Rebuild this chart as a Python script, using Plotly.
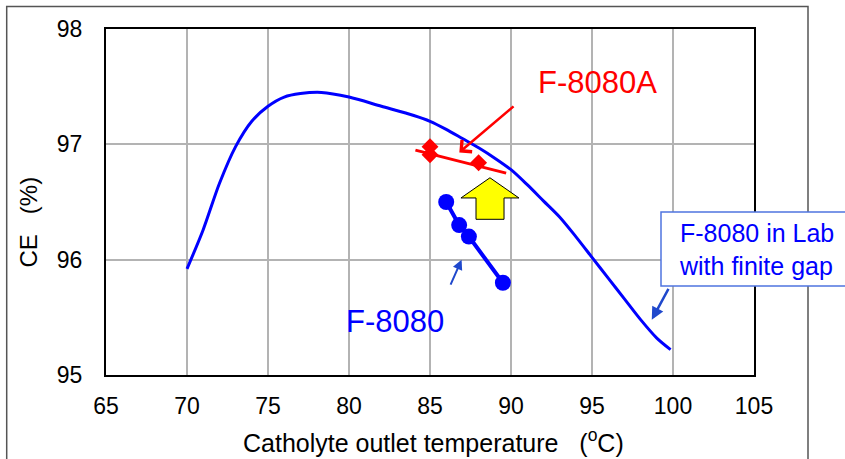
import plotly.graph_objects as go

# Lab curve: F-8080 in Lab with finite gap
lab_x = [70, 71, 72, 73, 74, 75, 76, 77, 78.3, 80, 82, 84, 85, 86, 87, 88, 89, 90, 91, 92, 93, 94, 95, 96, 97, 98, 99, 99.85]
lab_y = [95.92, 96.26, 96.66, 96.98, 97.2, 97.33, 97.41, 97.44, 97.45, 97.41, 97.33, 97.25, 97.2, 97.13, 97.05,
         96.97, 96.88, 96.78, 96.65, 96.51, 96.37, 96.2, 96.02, 95.84, 95.66, 95.48, 95.32, 95.22]

# F-8080 plant data
f8080_x = [86.0, 86.8, 87.4, 89.5]
f8080_y = [96.5, 96.3, 96.2, 95.8]

# F-8080A plant data and trend line
f8080a_x = [85.0, 85.0, 88.0]
f8080a_y = [96.98, 96.91, 96.84]
f8080a_fit_x = [84.1, 89.7]
f8080a_fit_y = [96.95, 96.75]

x_ticks = [65, 70, 75, 80, 85, 90, 95, 100, 105]
y_ticks = [95, 96, 97, 98]

FONT = "Liberation Sans, Arial, sans-serif"
BLUE = "#0000ff"
RED = "#ff0000"
ARROWBLUE = "#1f48cc"

fig = go.Figure()
fig.add_trace(go.Scatter(x=lab_x, y=lab_y, mode="lines", line=dict(color=BLUE, width=3, shape="spline", smoothing=0.8),
                         showlegend=False, hoverinfo="skip"))
fig.add_trace(go.Scatter(x=f8080a_fit_x, y=f8080a_fit_y, mode="lines", line=dict(color=RED, width=3),
                         showlegend=False))
fig.add_trace(go.Scatter(x=f8080a_x, y=f8080a_y, mode="markers",
                         marker=dict(symbol="diamond", size=13, color=RED), showlegend=False))
fig.add_trace(go.Scatter(x=f8080_x, y=f8080_y, mode="lines+markers", line=dict(color=BLUE, width=4),
                         marker=dict(symbol="circle", size=16, color=BLUE), showlegend=False))

W, H = 845, 459
L, R, T, B = 106, 91, 29, 84
pw, ph = W - L - R, H - T - B


def px(xp):
    return (xp - L) / pw


def py(yp):
    return (H - B - yp) / ph


shapes = [
    # outer figure frame
    dict(type="rect", xref="paper", yref="paper", x0=px(6.7), x1=px(808), y0=py(470), y1=py(6.5),
         line=dict(color="#555555", width=1.5), layer="below"),
    # yellow block arrow
    dict(type="path", xref="x", yref="y",
         path="M 87.84,96.35 L 87.84,96.535 L 86.91,96.535 L 88.70,96.71 L 90.49,96.535 L 89.57,96.535 L 89.57,96.35 Z",
         fillcolor="#ffff00", line=dict(color="black", width=1), layer="above"),
    # label box
    dict(type="rect", xref="paper", yref="paper", x0=px(661), x1=px(850), y0=py(286), y1=py(212),
         fillcolor="white", line=dict(color="#4f74e0", width=1.5), layer="above"),
]

annotations = [
    dict(x=86.81, y=96.93, ax=90.25, ay=97.34, xref="x", yref="y", axref="x", ayref="y", text="",
         showarrow=True, arrowhead=4, arrowsize=1.2, arrowwidth=2.5, arrowcolor=RED, standoff=0),
    dict(x=86.95, y=96.0, ax=86.23, ay=95.77, xref="x", yref="y", axref="x", ayref="y", text="",
         showarrow=True, arrowhead=2, arrowsize=1, arrowwidth=2, arrowcolor=ARROWBLUE, standoff=0),
    dict(x=98.69, y=95.48, ax=99.77, ay=95.76, xref="x", yref="y", axref="x", ayref="y", text="",
         showarrow=True, arrowhead=2, arrowsize=1, arrowwidth=2.5, arrowcolor=ARROWBLUE, standoff=0),
    dict(x=95.31, y=97.54, xref="x", yref="y", text="F-8080A", showarrow=False,
         xanchor="center", yanchor="middle", font=dict(family=FONT, size=31, color=RED)),
    dict(x=82.84, y=95.46, xref="x", yref="y", text="F-8080", showarrow=False,
         xanchor="center", yanchor="middle", font=dict(family=FONT, size=31, color=BLUE)),
    dict(x=px(677), y=py(249), xref="paper", yref="paper", xanchor="left", yanchor="middle", align="left",
         text="F-8080 in Lab<br>with finite gap", showarrow=False,
         font=dict(family=FONT, size=25, color=BLUE)),
    dict(x=px(433), y=py(441), xref="paper", yref="paper", xanchor="center", yanchor="middle",
         text="Catholyte outlet temperature   (<sup>o</sup>C)",
         showarrow=False, font=dict(family=FONT, size=25, color="black")),
    dict(x=px(27.5), y=py(222), xref="paper", yref="paper", xanchor="center", yanchor="middle",
         text="CE   (%)", textangle=-90,
         showarrow=False, font=dict(family=FONT, size=24, color="black")),
]

fig.update_layout(
    width=W, height=H,
    margin=dict(l=L, r=R, t=T, b=B),
    paper_bgcolor="white", plot_bgcolor="white",
    font=dict(family=FONT, color="black"),
    shapes=shapes, annotations=annotations,
    showlegend=False,
)
fig.update_xaxes(range=[65, 105], tickvals=x_ticks, ticktext=[str(v) for v in x_ticks],
                 showgrid=True, gridcolor="#b3b3b3", gridwidth=1.5, zeroline=False,
                 showline=True, mirror=True, linecolor="black", linewidth=2,
                 ticks="outside", ticklen=9, tickcolor="rgba(0,0,0,0)",
                 tickfont=dict(family=FONT, size=23, color="black"))
fig.update_yaxes(range=[95, 98], tickvals=y_ticks, ticktext=[str(v) for v in y_ticks],
                 showgrid=True, gridcolor="#b3b3b3", gridwidth=1.5, zeroline=False,
                 showline=True, mirror=True, linecolor="black", linewidth=2,
                 ticks="outside", ticklen=17, tickcolor="rgba(0,0,0,0)",
                 tickfont=dict(family=FONT, size=23, color="black"))

fig.write_html("out.html", config={"displayModeBar": False},
               post_script="document.body.style.margin='0';document.body.style.overflow='hidden';")
